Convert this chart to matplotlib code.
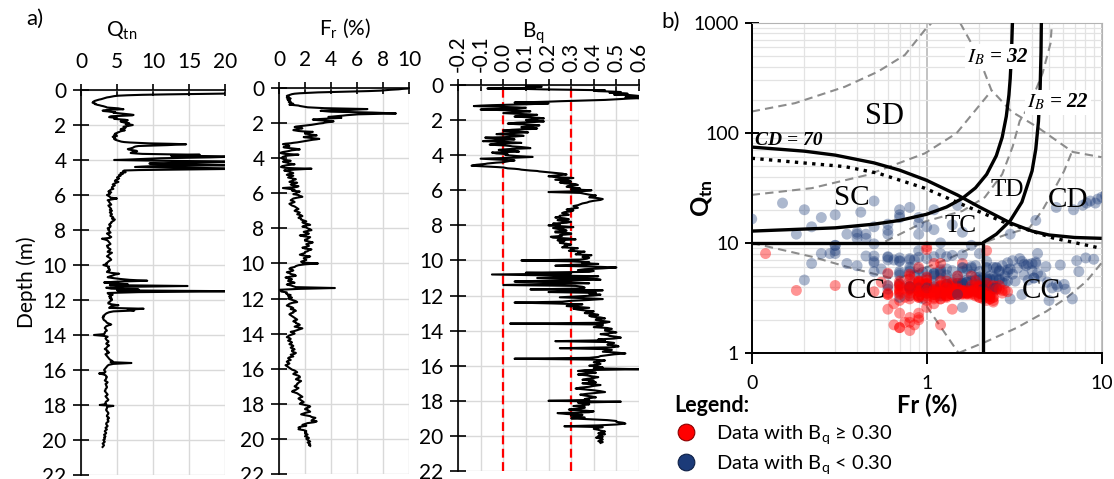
import numpy as np
import matplotlib.pyplot as plt
from matplotlib.lines import Line2D

plt.rcParams['font.family'] = ['Lato', 'DejaVu Sans']
plt.rcParams['mathtext.fontset'] = 'custom'
plt.rcParams['mathtext.rm'] = 'Lato'
plt.rcParams['mathtext.it'] = 'Lato:italic'
plt.rcParams['mathtext.bf'] = 'Lato:bold'

# CPT readings: every 0.025 m down to 5 m (rows of 0.5 m), then every 0.05 m (rows of 1 m)
depth = np.round(np.r_[np.arange(0, 4.99, 0.025), np.arange(5, 20.41, 0.05)], 3)

qtn = [27, 26, 25, 23, 24, 23, 22, 20, 21, 16, 12, 8.5, 6.5, 5.2, 4.6, 4.3, 4.0, 3.6, 3.4, 3.2,
       3.0, 2.8, 2.5, 2.3, 2.1, 1.9, 1.8, 1.7, 1.7, 1.6, 1.8, 2.0, 1.9, 2.1, 2.3, 2.6, 2.8, 3.1, 3.3, 3.5,
       3.6, 4.4, 5.2, 5.5, 5.9, 4.3, 3.4, 3.0, 3.1, 3.8, 4.2, 4.8, 4.5, 5.1, 5.6, 6.3, 6.9, 7.3, 7.1, 5.5,
       4.2, 4.0, 3.9, 4.4, 5.0, 4.8, 4.6, 5.3, 6.1, 6.5, 6.4, 5.8, 5.5, 5.7, 5.9, 6.4, 6.7, 6.5, 6.2, 6.8,
       7.2, 6.9, 6.6, 6.2, 5.9, 6.0, 6.2, 6.0, 5.8, 5.6, 5.5, 5.8, 6.1, 5.9, 5.6, 5.4, 5.3, 5.1, 5.0, 4.9,
       4.7, 4.9, 4.8, 4.6, 4.9, 5.0, 4.6, 4.4, 4.5, 4.6, 4.7, 4.8, 4.6, 4.7, 4.8, 5.0, 5.2, 5.4, 5.6, 6.0,
       6.8, 8.0, 9.5, 12.5, 14.6, 13.2, 12.0, 9.8, 8.0, 7.6, 7.4, 7.3, 7.2, 7.0, 6.8, 6.5, 6.6, 7.0, 7.5, 7.7,
       7.8, 7.5, 7.2, 7.0, 6.9, 7.6, 8.5, 12, 16.5, 14, 12.5, 17, 22, 20, 18, 14, 11, 9.5, 8.0, 6.5,
       4.6, 8, 12, 19, 24, 20, 15, 12, 9.5, 11, 13, 17, 21, 14, 10, 8.5, 7.5, 12, 17, 20,
       23, 18, 12, 8, 6.0, 5.9, 5.8, 6.0, 6.2, 5.8, 5.5, 5.7, 5.8, 5.5, 5.3, 5.4, 5.5, 5.3, 5.2, 5.1,
       5.0, 5.3, 5.1, 4.8, 4.7, 5.2, 4.9, 4.6, 4.4, 4.7, 4.5, 4.3, 4.3, 4.5, 4.1, 4.0, 3.8, 4.2, 3.9, 4.0,
       3.6, 3.8, 4.0, 4.1, 5.0, 4.3, 3.7, 3.9, 3.9, 4.0, 4.1, 4.2, 3.8, 3.9, 4.0, 4.1, 4.2, 4.0, 4.3, 4.1,
       4.0, 4.2, 4.3, 4.1, 4.1, 4.4, 4.5, 4.3, 4.7, 4.6, 4.4, 4.2, 4.2, 4.0, 3.9, 4.1, 4.1, 4.0, 3.7, 3.9,
       3.8, 3.9, 4.0, 4.1, 3.6, 3.8, 3.9, 4.0, 4.2, 4.0, 2.9, 3.4, 3.7, 3.8, 3.9, 4.0, 4.1, 3.9, 3.6, 3.7,
       3.7, 3.9, 4.1, 4.0, 3.8, 3.7, 4.3, 4.1, 3.9, 3.8, 3.6, 3.8, 4.0, 4.1, 4.2, 4.0, 3.8, 3.7, 3.5, 3.6,
       3.1, 3.5, 3.9, 3.8, 3.8, 4.0, 4.0, 3.7, 3.6, 4.2, 5.3, 4.7, 4.4, 4.0, 3.7, 4.5, 5.5, 6.8, 9.2, 5.0,
       3.2, 4.6, 6.5, 4.0, 14.8, 6.0, 3.5, 4.2, 8.0, 5.0, 22, 8.0, 3.7, 3.8, 4.4, 4.1, 3.9, 4.2, 4.0, 4.3,
       4.3, 4.1, 4.0, 3.8, 3.8, 4.3, 5.2, 4.2, 4.1, 3.9, 8.7, 6.5, 7.4, 4.5, 3.9, 3.6, 3.4, 3.3, 3.1, 3.2,
       3.0, 3.1, 3.1, 3.2, 3.4, 3.5, 3.6, 3.9, 4.2, 3.8, 3.5, 3.4, 3.3, 3.4, 3.5, 3.6, 3.4, 3.3, 3.3, 3.2,
       1.8, 3.2, 3.7, 3.5, 3.4, 3.5, 3.6, 3.8, 3.8, 3.6, 3.5, 3.7, 3.9, 3.7, 3.6, 3.5, 3.3, 3.5, 3.7, 3.6,
       3.9, 3.7, 3.4, 3.5, 3.6, 3.7, 3.8, 3.9, 4.0, 4.2, 4.4, 4.1, 7.0, 4.5, 3.9, 3.7, 3.6, 3.5, 3.4, 3.3,
       3.2, 3.3, 3.4, 3.3, 2.5, 3.1, 3.4, 3.5, 3.6, 3.5, 3.5, 3.4, 3.3, 3.5, 3.7, 3.6, 3.4, 3.5, 3.5, 3.6,
       3.6, 3.5, 3.4, 3.4, 3.3, 3.4, 3.5, 3.6, 3.7, 3.6, 3.4, 3.5, 3.6, 3.7, 3.8, 3.7, 3.5, 3.4, 3.4, 3.5,
       2.6, 4.5, 3.7, 3.6, 3.6, 3.5, 3.5, 3.6, 3.7, 3.8, 3.8, 3.7, 3.6, 3.6, 3.8, 3.9, 3.7, 3.7, 3.8, 3.8,
       3.6, 3.5, 3.5, 3.6, 3.7, 3.6, 3.4, 3.5, 3.6, 3.4, 3.3, 3.4, 3.5, 3.4, 3.2, 3.3, 3.4, 3.2, 3.3, 3.3,
       3.1, 3.2, 3.3, 3.2, 3.0, 3.1, 3.2, 3.1, 3.0]

fr = [10.5, 10.0, 9.5, 9.2, 8.6, 8.2, 7.8, 6.9, 5.5, 4.2, 3.0, 2.2, 1.6, 1.2, 1.0, 0.9, 0.8, 0.7, 0.6, 0.75,
      0.7, 0.65, 0.6, 0.7, 0.9, 0.8, 0.65, 0.7, 0.7, 0.8, 0.85, 0.9, 0.75, 0.8, 0.9, 1.0, 1.1, 0.95, 0.8, 1.2,
      1.5, 1.6, 1.8, 2.0, 2.2, 2.8, 3.5, 5.0, 6.8, 6.2, 5.5, 4.1, 3.2, 3.6, 4.0, 5.8, 7.2, 8.1, 9.0, 7.4,
      6.1, 5.6, 5.2, 4.9, 4.5, 4.1, 3.8, 4.3, 4.8, 4.2, 3.6, 3.0, 2.6, 2.9, 3.3, 3.8, 4.2, 4.0, 3.7, 3.5,
      3.4, 3.1, 2.9, 2.7, 2.5, 2.2, 1.9, 1.6, 1.3, 1.2, 1.6, 1.7, 1.8, 1.6, 1.4, 1.2, 1.1, 1.3, 1.5, 1.9,
      2.6, 2.4, 2.2, 2.0, 2.0, 2.3, 2.4, 2.7, 2.9, 2.6, 2.3, 2.1, 1.9, 2.2, 2.5, 2.8, 3.1, 2.9, 2.6, 2.4,
      2.2, 2.0, 1.8, 1.6, 1.4, 1.1, 0.9, 0.5, 0.3, 0.45, 0.6, 0.7, 0.8, 0.65, 0.5, 0.35, 0.5, 0.8, 1.1, 1.4,
      1.6, 1.3, 1.0, 0.85, 0.7, 0.5, 0.3, 0.18, 0.1, 0.22, 0.4, 0.9, 1.5, 1.1, 0.7, 0.5, 0.4, 0.3, 0.25, 0.22,
      0.2, 0.28, 0.35, 0.42, 0.5, 0.7, 0.9, 0.6, 0.3, 0.45, 0.6, 0.7, 0.8, 1.0, 1.2, 0.9, 0.6, 0.4, 0.25, 0.2,
      0.15, 0.3, 0.45, 1.2, 2.5, 1.8, 1.2, 0.8, 0.4, 0.55, 0.7, 0.8, 0.9, 1.0, 1.1, 0.95, 0.8, 0.7, 0.6, 0.85,
      1.1, 0.9, 0.7, 1.0, 1.3, 1.1, 1.0, 0.8, 1.4, 1.2, 0.9, 1.1, 1.5, 1.3, 0.3, 0.8, 1.2, 1.0, 1.6, 1.4,
      1.3, 1.1, 1.5, 1.6, 1.8, 1.4, 1.1, 1.0, 0.9, 1.1, 1.2, 1.0, 0.8, 0.9, 1.0, 1.2, 1.3, 1.4, 1.5, 1.3,
      1.2, 1.4, 1.6, 1.5, 1.4, 1.7, 1.8, 1.6, 1.5, 1.7, 1.7, 1.9, 2.1, 1.8, 1.9, 2.2, 2.4, 2.0, 1.8, 2.1,
      2.2, 2.4, 2.5, 2.2, 1.9, 2.1, 2.3, 2.1, 1.6, 1.9, 2.4, 2.3, 2.2, 2.0, 2.0, 2.3, 2.6, 2.4, 2.1, 2.2,
      2.3, 2.1, 1.8, 2.0, 2.5, 2.3, 2.2, 2.0, 2.0, 1.8, 1.6, 1.9, 2.4, 2.2, 1.9, 2.0, 2.1, 1.9, 1.7, 1.8,
      3.0, 2.0, 1.5, 1.3, 1.2, 0.9, 0.8, 1.0, 1.1, 0.9, 0.6, 0.8, 0.9, 1.2, 1.3, 0.9, 0.5, 0.7, 1.0, 0.8,
      0.7, 1.0, 1.2, 0.8, 0.6, 0.9, 1.1, 1.3, 4.3, 1.5, 0.05, 0.12, 0.18, 0.6, 0.55, 0.6, 0.9, 0.7, 0.8, 1.0,
      0.7, 0.9, 1.1, 1.3, 1.4, 1.0, 0.8, 0.7, 0.6, 0.8, 1.0, 1.1, 0.9, 1.2, 1.3, 1.1, 1.1, 0.9, 0.8, 0.9,
      1.0, 1.1, 1.2, 1.3, 1.4, 1.2, 1.1, 1.3, 1.3, 1.5, 1.6, 1.4, 1.2, 1.5, 1.8, 1.6, 1.4, 1.2, 0.9, 1.1,
      1.2, 1.0, 0.8, 0.7, 0.6, 0.8, 0.9, 0.8, 0.7, 0.9, 1.0, 0.9, 0.8, 1.0, 1.1, 1.0, 0.9, 1.1, 1.2, 1.0,
      1.0, 1.1, 1.3, 1.2, 0.9, 1.0, 1.1, 0.8, 0.7, 0.8, 0.9, 0.7, 0.6, 0.7, 0.8, 0.7, 0.5, 0.6, 0.7, 0.8,
      0.9, 1.0, 1.2, 1.3, 1.4, 1.2, 1.1, 1.3, 1.5, 1.6, 1.6, 1.4, 1.3, 1.5, 1.7, 1.6, 1.5, 1.4, 1.4, 1.3,
      1.2, 1.3, 1.5, 1.4, 1.3, 1.1, 1.0, 1.2, 1.4, 1.5, 1.6, 1.7, 1.8, 1.6, 1.5, 1.6, 1.7, 1.8, 1.9, 1.7,
      1.6, 1.9, 2.2, 2.4, 2.3, 2.1, 2.0, 2.2, 2.3, 2.4, 2.1, 1.9, 1.7, 2.0, 2.4, 2.5, 2.8, 2.7, 2.6, 2.5,
      2.9, 2.7, 2.2, 2.0, 1.8, 2.1, 1.7, 1.5, 1.6, 1.5, 1.9, 2.1, 2.0, 2.1, 2.0, 2.2, 2.1, 2.0, 2.2, 2.3,
      2.1, 2.2, 2.3, 2.4, 2.2, 2.3, 2.4, 2.3, 2.4]

bq = [0.12, 0.15, 0.1, 0.16, 0.17, 0.12, 0.14, 0.08, -0.07, 0.1, 0.18, 0.3, 0.45, 0.4, 0.42, 0.48, 0.52, 0.5, 0.47, 0.53,
      0.55, 0.5, 0.49, 0.56, 0.58, 0.6, 0.6, 0.57, 0.54, 0.58, 0.6, 0.55, 0.52, 0.48, 0.45, 0.38, 0.3, 0.25, 0.2, 0.12,
      0.05, 0.12, 0.2, 0.15, 0.1, 0.02, -0.05, -0.1, -0.13, -0.06, 0.0, 0.06, 0.1, 0.07, 0.03, -0.04, -0.1, -0.02, 0.06, 0.1,
      0.12, 0.09, 0.05, 0.02, 0.0, 0.04, 0.08, 0.12, 0.15, 0.13, 0.1, 0.07, 0.05, 0.09, 0.12, 0.16, 0.18, 0.15, 0.14, 0.12,
      0.1, 0.13, 0.16, 0.18, 0.15, 0.1, 0.06, 0.04, 0.02, 0.05, 0.1, 0.14, 0.16, 0.14, 0.12, 0.1, 0.08, 0.11, 0.13, 0.15,
      0.14, 0.08, 0.04, 0.02, 0.0, 0.03, 0.07, 0.09, 0.11, 0.06, 0.02, -0.01, -0.03, 0.01, 0.06, 0.08, 0.09, 0.06, 0.04, 0.0,
      -0.08, -0.04, 0.0, 0.03, 0.05, 0.0, -0.04, -0.07, -0.09, -0.03, 0.02, 0.05, 0.08, 0.02, -0.03, -0.05, -0.06, -0.02, 0.01, 0.03,
      0.04, 0.07, 0.09, 0.11, 0.12, 0.07, 0.03, 0.0, -0.02, 0.02, 0.05, 0.06, 0.07, 0.0, -0.05, -0.04, -0.03, 0.0, 0.02, 0.01,
      0.01, 0.04, 0.06, 0.1, 0.13, 0.08, 0.04, -0.04, -0.1, -0.06, -0.02, 0.02, 0.05, 0.03, 0.02, 0.01, 0.0, -0.03, -0.05, -0.07,
      -0.08, -0.1, -0.12, -0.13, -0.14, -0.1, -0.06, -0.03, 0.0, 0.01, 0.02, 0.05, 0.07, 0.08, 0.1, 0.12, 0.15, 0.16, 0.18, 0.2,
      0.22, 0.26, 0.28, 0.24, 0.2, 0.23, 0.31, 0.27, 0.23, 0.29, 0.3, 0.25, 0.27, 0.32, 0.33, 0.29, 0.28, 0.31, 0.34, 0.3,
      0.39, 0.35, 0.2, 0.34, 0.36, 0.38, 0.41, 0.39, 0.38, 0.42, 0.44, 0.43, 0.4, 0.38, 0.37, 0.35, 0.34, 0.33, 0.31, 0.32,
      0.33, 0.3, 0.28, 0.31, 0.3, 0.27, 0.26, 0.28, 0.29, 0.25, 0.25, 0.23, 0.27, 0.29, 0.24, 0.26, 0.3, 0.28, 0.22, 0.25,
      0.2, 0.26, 0.31, 0.22, 0.24, 0.27, 0.28, 0.23, 0.23, 0.3, 0.3, 0.25, 0.26, 0.21, 0.22, 0.29, 0.32, 0.24, 0.27, 0.25,
      0.25, 0.28, 0.3, 0.27, 0.28, 0.26, 0.33, 0.3, 0.31, 0.29, 0.36, 0.33, 0.34, 0.32, 0.39, 0.36, 0.35, 0.38, 0.37, 0.34,
      0.08, 0.3, 0.38, 0.35, 0.42, 0.3, 0.23, 0.4, 0.5, 0.44, 0.36, 0.33, 0.4, 0.38, 0.1, 0.3, -0.05, 0.2, 0.42, 0.3,
      0.15, 0.4, 0.43, 0.2, 0.05, 0.3, 0.38, 0.15, 0.0, 0.32, 0.35, 0.36, 0.34, 0.12, 0.44, 0.35, 0.2, 0.41, 0.38, 0.43,
      0.4, 0.32, 0.25, 0.36, 0.44, 0.38, 0.3, 0.26, 0.05, 0.22, 0.35, 0.3, 0.28, 0.33, 0.38, 0.31, 0.33, 0.36, 0.4, 0.37,
      0.36, 0.4, 0.42, 0.38, 0.39, 0.43, 0.45, 0.41, 0.41, 0.44, 0.47, 0.45, 0.03, 0.44, 0.44, 0.42, 0.4, 0.46, 0.48, 0.45,
      0.45, 0.48, 0.5, 0.47, 0.43, 0.46, 0.47, 0.5, 0.52, 0.49, 0.42, 0.45, 0.23, 0.46, 0.49, 0.47, 0.46, 0.5, 0.51, 0.48,
      0.25, 0.44, 0.48, 0.46, 0.44, 0.5, 0.54, 0.49, 0.46, 0.43, 0.42, 0.38, 0.05, 0.4, 0.45, 0.43, 0.4, 0.42, 0.43, 0.41,
      0.38, 0.42, 0.44, 0.4, 0.6, 0.36, 0.33, 0.39, 0.41, 0.36, 0.33, 0.37, 0.39, 0.42, 0.4, 0.37, 0.35, 0.4, 0.38, 0.41,
      0.35, 0.38, 0.43, 0.4, 0.38, 0.34, 0.32, 0.36, 0.4, 0.43, 0.45, 0.41, 0.37, 0.34, 0.36, 0.39, 0.41, 0.38, 0.36, 0.38,
      0.2, 0.52, 0.33, 0.36, 0.38, 0.35, 0.31, 0.36, 0.36, 0.33, 0.29, 0.35, 0.4, 0.38, 0.24, 0.28, 0.35, 0.3, 0.33, 0.36,
      0.3, 0.38, 0.46, 0.5, 0.5, 0.53, 0.54, 0.5, 0.42, 0.27, 0.44, 0.41, 0.4, 0.42, 0.43, 0.45, 0.44, 0.42, 0.45, 0.43,
      0.42, 0.44, 0.41, 0.43, 0.44, 0.43, 0.42, 0.44, 0.43]

bq_limit = 0.30

# Robertson (2016) chart boundaries, (Fr %, Qtn)
cd70 = [(0.1, 74.2), (0.2, 68.1), (0.3, 62.7), (0.5, 53.3), (0.7, 45.8), (1.0, 37.0),
        (1.5, 27.2), (2.0, 21.2), (3.0, 15.2), (4.0, 12.8), (5.0, 11.8), (7.0, 11.2), (10, 11.0)]
ib32 = [(0.1, 12.8), (0.3, 13.7), (0.5, 14.8), (0.7, 16.0), (1.0, 18.2), (1.3, 21.2),
        (1.6, 25.4), (1.9, 31.6), (2.2, 41.9), (2.5, 62), (2.7, 91), (2.85, 141),
        (2.95, 221), (3.0, 310), (3.05, 517), (3.08, 861), (3.09, 1000)]
ib22 = [(2.09, 10.0), (2.5, 12.0), (3.0, 15.9), (3.5, 23.5), (4.0, 45), (4.2, 71),
        (4.35, 126), (4.45, 257), (4.5, 540), (4.52, 1000)]
dotted = [(0.1, 58.7), (0.341, 49.3), (0.526, 43.0), (0.975, 31.4), (1.61, 22.2),
          (2.72, 15.6), (5.25, 11.1), (9.7, 9.0), (10, 9.0)]
frame_lines = [[(0.1, 10), (2.09, 10)], [(2.09, 1), (2.09, 10)]]
dashed = [
    [(0.1, 156), (0.177, 186), (0.341, 262), (0.526, 359), (0.75, 509), (0.975, 858), (1.07, 1000)],
    [(1.55, 1000), (1.96, 509), (2.34, 245), (3.05, 156), (4.24, 114), (6.83, 67), (10, 60)],
    [(0.1, 27.3), (0.22, 31.4), (0.46, 41.5), (0.975, 65), (1.48, 99), (2.34, 240)],
    [(0.58, 10.3), (0.975, 15.6), (1.6, 19.5), (2.15, 26), (2.7, 42), (3.1, 75), (3.4, 128),
     (3.88, 179), (4.6, 350), (5.1, 650), (5.2, 1000)],
    [(0.7, 4.8), (1.36, 7.3), (1.96, 9.6), (2.8, 11.8), (3.88, 13.8), (4.6, 20), (5.25, 29),
     (6.1, 45), (6.75, 67)],
    [(0.1, 10), (0.22, 7.5), (0.372, 5.9), (0.684, 4.62), (1.0, 2.65), (1.52, 1.0)],
    [(1.52, 1.0), (2.19, 1.27), (3.26, 1.69), (4.83, 2.39), (6.28, 3.16), (8.17, 4.47), (10, 6.6)],
]
zones = [('SD', 0.577, 140, 22), ('SC', 0.372, 25.5, 21), ('TD', 2.9, 30.3, 18),
         ('CD', 6.38, 24.6, 21), ('TC', 1.55, 14.1, 18), ('CC', 0.453, 3.62, 21),
         ('CC', 4.52, 3.62, 21)]

W, H = 1114, 479
fig = plt.figure(figsize=(W / 100, H / 100), dpi=100)


def add_ax(l, t, r, b):
    return fig.add_axes([l / W, 1 - b / H, (r - l) / W, (b - t) / H])


def profile(ax, vals, xlim, xticks, xlabels, rot=0):
    ax.plot(vals, depth, color='black', lw=1.5, zorder=3)
    ax.set_xlim(*xlim)
    ax.set_ylim(22, 0)
    ax.set_xticks(xticks)
    ax.set_xticklabels(xlabels, rotation=rot)
    ax.set_yticks(range(0, 23, 2))
    ax.xaxis.tick_top()
    ax.grid(True, color='#d9d9d9', lw=1)
    ax.set_axisbelow(True)
    for s in ['right', 'bottom']:
        ax.spines[s].set_visible(False)
    for s in ['top', 'left']:
        ax.spines[s].set_linewidth(1.2)
    ax.tick_params(axis='x', direction='inout', length=8, width=1.2, pad=5 if rot else 9,
                   labelsize=15)
    ax.tick_params(axis='y', direction='inout', length=11, width=1.2, pad=5, labelsize=15)


ax1 = add_ax(81, 90, 225, 475)
profile(ax1, qtn, (0, 20), [0, 5, 10, 15, 20], ['0', '5', '10', '15', '20'])
ax1.set_ylabel('Depth (m)', fontsize=15, labelpad=4)

ax2 = add_ax(279, 88, 409, 474)
profile(ax2, fr, (0, 10), [0, 2, 4, 6, 8, 10], ['0', '2', '4', '6', '8', '10'])

ax3 = add_ax(458, 85, 639, 471)
bq_ticks = [-0.2, -0.1, 0.0, 0.1, 0.2, 0.3, 0.4, 0.5, 0.6]
profile(ax3, bq, (-0.2, 0.6), bq_ticks, ['%.1f' % t for t in bq_ticks], rot=90)
for xv in [0.0, bq_limit]:
    ax3.axvline(xv, color='red', lw=1.6, ls=(0, (4, 2)), zorder=2)

for txt, x, y, fs in [(r'$\mathrm{Q_{tn}}$', 122, 31, 15), (r'$\mathrm{F_r}$ (%)', 345, 28, 15),
                      (r'$\mathrm{B_q}$', 533, 33, 15), ('a)', 35, 19, 16), ('b)', 671, 22, 16)]:
    fig.text(x / W, 1 - y / H, txt, fontsize=fs, ha='center', va='center')

# panel b
axb = add_ax(751.7, 22.7, 1101.7, 353)
axb.set_xscale('log')
axb.set_yscale('log')
axb.set_xlim(0.1, 10)
axb.set_ylim(1, 1000)
axb.grid(True, which='minor', color='#e3e3e3', lw=0.9)
axb.grid(True, which='major', color='#b3b3b3', lw=1.1)
axb.set_axisbelow(True)
for s in ['top', 'right']:
    axb.spines[s].set_color('#b3b3b3')
for s in ['left', 'bottom']:
    axb.spines[s].set_linewidth(1.4)
axb.set_xticks([0.1, 1, 10])
axb.set_xticklabels(['0', '1', '10'])
axb.set_yticks([1, 10, 100, 1000])
axb.set_yticklabels(['1', '10', '100', '1000'])
axb.tick_params(which='minor', length=0)
axb.tick_params(axis='y', which='major', direction='inout', length=10, width=1.4, labelsize=14, pad=4)
axb.tick_params(axis='x', which='major', direction='out', length=8, width=1.4, labelsize=14, pad=8)
axb.set_xlabel('Fr (%)', fontsize=17, fontweight='bold', labelpad=1)
axb.set_ylabel(r'$\mathbf{Q_{tn}}$', fontsize=18)
axb.yaxis.set_label_coords(-0.105, 0.47)

for line in dashed:
    xs, ys = zip(*line)
    axb.plot(xs, ys, color='#8c8c8c', lw=1.5, ls=(0, (4, 2.5)), zorder=2)

is_red = np.array(bq) >= bq_limit
cols = np.where(is_red, '#ff0000', '#1b3a78')
alphas = np.where(is_red, 0.42, 0.36)
axb.scatter(fr, qtn, s=62, c=list(cols), alpha=alphas, edgecolors='none', zorder=3)

for line in [cd70, ib32, ib22] + frame_lines:
    xs, ys = zip(*line)
    axb.plot(xs, ys, color='black', lw=2.4, zorder=4, solid_capstyle='butt')
xs, ys = zip(*dotted)
axb.plot(xs, ys, color='black', lw=2.4, ls=(0, (1, 1.6)), zorder=4)

for name, x, y, fs in zones:
    axb.text(x, y, name, fontsize=fs, family='Liberation Serif', ha='center', va='center', zorder=6)
axb.text(0.105, 86, 'CD = 70', fontsize=14, family='Liberation Serif', style='italic',
         fontweight='bold', ha='left', va='center', zorder=6)
for lab, x, y in [('32', 2.55, 489), ('22', 5.6, 190)]:
    axb.text(x, y, r'$I_B$ = ' + lab, fontsize=15, family='Liberation Serif', style='italic',
             fontweight='bold', math_fontfamily='stix', ha='center', va='center', zorder=6,
             bbox=dict(facecolor='white', edgecolor='none', pad=1.5))

h_red = Line2D([], [], marker='o', ls='', ms=12, mfc='#ff0000', mec='#8b0000', mew=0.8,
               label=r'Data with $\mathrm{B_q}$ ≥ 0.30')
h_blue = Line2D([], [], marker='o', ls='', ms=12, mfc='#1b3a78', mec='#0e1f45', mew=0.8,
                label=r'Data with $\mathrm{B_q}$ < 0.30')
axb.legend(handles=[h_red, h_blue], title='Legend:', loc='upper left',
           bbox_to_anchor=(674 / W, 1 - 395 / H), bbox_transform=fig.transFigure,
           frameon=False, alignment='left', fontsize=14.5, handletextpad=0.9,
           labelspacing=0.35, borderaxespad=0, borderpad=0, handlelength=1.2,
           title_fontproperties={'weight': 'bold', 'size': 15.5})

fig.savefig('out.png', dpi=100)
